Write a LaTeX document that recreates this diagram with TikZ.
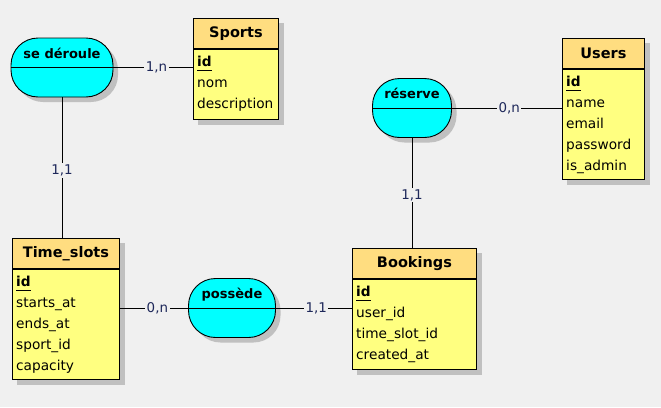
\documentclass[tikz,border=0pt]{standalone}
\usepackage{fontspec}
\setmainfont{DejaVu Sans}
\usetikzlibrary{shadows,calc}
\pgfdeclarelayer{shadowlayer}
\pgfsetlayers{shadowlayer,main}
\definecolor{bgc}{RGB}{240,240,240}
\definecolor{hdrc}{RGB}{255,221,128}
\definecolor{bodyc}{RGB}{255,255,128}
\definecolor{relc}{RGB}{0,255,255}
\definecolor{shadowc}{RGB}{192,192,192}
\definecolor{cardc}{RGB}{30,40,90}
\newcommand\keyattr[1]{\setbox0\hbox{\bfseries #1}\rlap{\rule[-4.3pt]{\wd0}{1.3pt}}\box0}
\newcommand\firstline{\rule{0pt}{14pt}}
\tikzset{
  x=1pt,y=1pt,
  shd/.style={drop shadow={shadow xshift=5pt,shadow yshift=-5pt,fill=shadowc,opacity=1}},
  hdr/.style={draw,fill=hdrc,anchor=north west,minimum height=30pt,inner sep=0pt,line width=0.9pt,
    font=\bfseries\fontsize{14.5}{17}\selectfont},
  ebody/.style={draw,fill=bodyc,anchor=north west,inner sep=0pt,line width=0.9pt},
  attr/.style={anchor=north west,inner sep=0pt,align=left,font=\fontsize{13.7}{21}\selectfont},
  rel/.style={draw,fill=relc,shd,rounded corners=27pt,inner sep=0pt,line width=0.9pt,minimum height=59pt},
  reltext/.style={anchor=base,inner sep=0pt,font=\bfseries\fontsize{13}{15}\selectfont},
  link/.style={draw,line width=0.9pt},
  card/.style={fill=bgc,inner sep=1.5pt,text=cardc,font=\fontsize{13.4}{16}\selectfont},
  eshadow/.style={fill=shadowc},
}
\begin{document}
\begin{tikzpicture}
\useasboundingbox (0,0) rectangle (661,-407);
\begin{pgfonlayer}{shadowlayer}
\fill[bgc] (0,0) rectangle (661,-407);
\end{pgfonlayer}

% Sports
\node[hdr,minimum width=85pt] (sportsH) at (193,-18) {Sports};
\node[ebody,minimum width=85pt,minimum height=70pt] (sports) at (sportsH.south west) {};
\node[attr] (sportsA) at ($(sports.north west)+(4,-3.5)$) {\firstline\keyattr{id}\\nom\\description};

% Users
\node[hdr,minimum width=82pt] (usersH) at (562,-38) {Users};
\node[ebody,minimum width=82pt,minimum height=110pt] (users) at (usersH.south west) {};
\node[attr] (usersA) at ($(users.north west)+(4,-3.5)$) {\firstline\keyattr{id}\\name\\email\\password\\is\_admin};

% Time_slots
\node[hdr,minimum width=107pt] (tsH) at (12,-238) {Time\_slots};
\node[ebody,minimum width=107pt,minimum height=110pt] (ts) at (tsH.south west) {};
\node[attr] (tsA) at ($(ts.north west)+(4,-3.5)$) {\firstline\keyattr{id}\\starts\_at\\ends\_at\\sport\_id\\capacity};

% Bookings
\node[hdr,minimum width=124pt] (bkH) at (352,-248) {Bookings};
\node[ebody,minimum width=124pt,minimum height=90pt] (bk) at (bkH.south west) {};
\node[attr] (bkA) at ($(bk.north west)+(4,-3.5)$) {\firstline\keyattr{id}\\user\_id\\time\_slot\_id\\created\_at};

% entity shadows
\begin{pgfonlayer}{shadowlayer}
\fill[eshadow] ($(sportsH.north west)+(5,-5)$) rectangle ($(sports.south east)+(5,-5)$);
\fill[eshadow] ($(usersH.north west)+(5,-5)$) rectangle ($(users.south east)+(5,-5)$);
\fill[eshadow] ($(tsH.north west)+(5,-5)$) rectangle ($(ts.south east)+(5,-5)$);
\fill[eshadow] ($(bkH.north west)+(5,-5)$) rectangle ($(bk.south east)+(5,-5)$);
\end{pgfonlayer}

% Relationships
\node[rel,minimum width=102pt] (der) at (62,-67.5) {};
\draw[line width=0.9pt] (der.west) -- (der.east);
\node[reltext] (derT) at ($(der.center)+(0,9.5)$) {se déroule};

\node[rel,minimum width=79pt] (res) at (412,-108) {};
\draw[line width=0.9pt] (res.west) -- (res.east);
\node[reltext] (resT) at ($(res.center)+(0,9.5)$) {réserve};

\node[rel,minimum width=87pt] (pos) at (232,-308) {};
\draw[line width=0.9pt] (pos.west) -- (pos.east);
\node[reltext] (posT) at ($(pos.center)+(0,9.5)$) {possède};

% Links
\path[link] (der.east) -- node[card,pos=0.54] (c1) {1,n} (der.east -| sports.west);
\path[link] (der.south) -- node[card,pos=0.52] (c2) {1,1} (der.south |- tsH.north);
\path[link] (res.east) -- node[card,pos=0.52] (c3) {0,n} (res.east -| users.west);
\path[link] (res.south) -- node[card,pos=0.52] (c4) {1,1} (res.south |- bkH.north);
\path[link] (ts.east |- pos.west) -- node[card,pos=0.55] (c5) {0,n} (pos.west);
\path[link] (pos.east) -- node[card,pos=0.53] (c6) {1,1} (pos.east -| bk.west);
\end{tikzpicture}
\end{document}
